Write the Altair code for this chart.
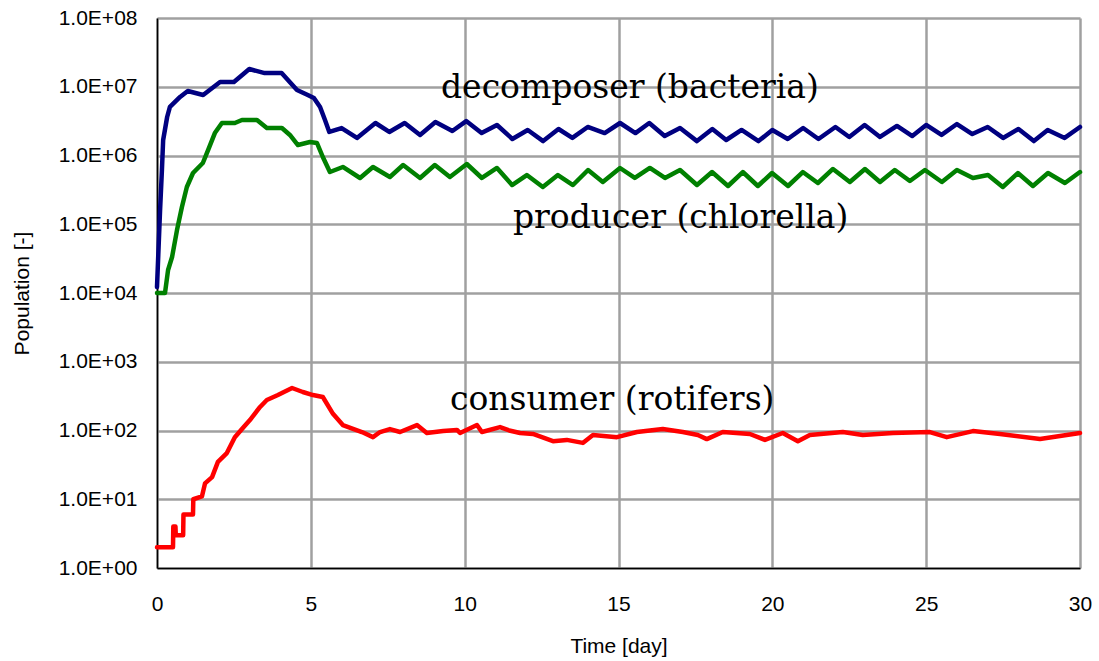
import altair as alt
import pandas as pd

# Simulated populations in the closed aquatic microcosm (day, individuals)
bacteria_day = [0, 0.1, 0.16, 0.2, 0.33, 0.42, 0.75, 1.0, 1.5, 2.05,
                2.5, 3.0, 3.5, 4.05, 4.55, 4.9, 5.1, 5.3, 5.46, 5.6,
                6.0, 6.5, 7.1, 7.55, 8.05, 8.55, 9.05, 9.6, 10.05, 10.55,
                11.05, 11.55, 12.05, 12.55, 13.05, 13.5, 14.0, 14.55, 15.05, 15.55,
                16.0, 16.5, 17.0, 17.55, 18.05, 18.5, 19.0, 19.55, 20.0, 20.5,
                21.0, 21.5, 22.05, 22.5, 23.0, 23.5, 24.05, 24.55, 25.0, 25.5,
                26.0, 26.5, 27.0, 27.5, 28.0, 28.5, 28.95, 29.5, 30.0]
bacteria_pop = [1.22e4, 1.61e5, 6.15e5, 1.68e6, 3.63e6, 5.08e6, 7.10e6, 8.67e6, 7.59e6, 1.17e7,
                1.17e7, 1.81e7, 1.58e7, 1.58e7, 8.97e6, 7.59e6, 6.86e6, 5.08e6, 3.28e6, 2.20e6,
                2.51e6, 1.80e6, 2.97e6, 2.20e6, 2.97e6, 1.99e6, 3.07e6, 2.27e6, 3.17e6, 2.12e6,
                2.78e6, 1.74e6, 2.35e6, 1.62e6, 2.43e6, 1.80e6, 2.60e6, 2.12e6, 2.97e6, 2.12e6,
                2.97e6, 1.92e6, 2.51e6, 1.62e6, 2.43e6, 1.68e6, 2.35e6, 1.62e6, 2.35e6, 1.74e6,
                2.51e6, 1.74e6, 2.60e6, 1.86e6, 2.78e6, 1.86e6, 2.69e6, 1.92e6, 2.78e6, 1.99e6,
                2.87e6, 2.05e6, 2.60e6, 1.80e6, 2.43e6, 1.62e6, 2.35e6, 1.80e6, 2.60e6]

chlorella_day = [0, 0.26, 0.36, 0.49, 0.65, 0.81, 0.97, 1.17, 1.49, 1.66,
                 1.88, 2.11, 2.53, 2.76, 3.25, 3.57, 4.06, 4.32, 4.58, 4.97,
                 5.20, 5.39, 5.62, 6.04, 6.60, 7.02, 7.57, 8.00, 8.55, 9.03,
                 9.52, 10.07, 10.56, 11.05, 11.54, 12.02, 12.54, 13.03, 13.52, 14.01,
                 14.49, 15.05, 15.53, 16.02, 16.51, 17.00, 17.55, 18.04, 18.56, 19.04,
                 19.53, 19.99, 20.51, 20.99, 21.48, 21.97, 22.52, 23.01, 23.50, 23.98,
                 24.47, 24.96, 25.51, 26.00, 26.52, 27.01, 27.49, 27.98, 28.47, 28.96,
                 29.51, 30.0]
chlorella_pop = [1.0e4, 1.0e4, 2.16e4, 3.34e4, 8.24e4, 1.78e5, 3.48e5, 5.56e5, 7.78e5, 1.20e6,
                 2.12e6, 2.97e6, 2.97e6, 3.28e6, 3.28e6, 2.51e6, 2.51e6, 1.99e6, 1.42e6, 1.57e6,
                 1.52e6, 9.51e5, 5.75e5, 6.81e5, 4.71e5, 6.81e5, 4.87e5, 7.27e5, 4.71e5, 7.27e5,
                 4.87e5, 7.52e5, 4.71e5, 6.58e5, 3.72e5, 5.20e5, 3.48e5, 5.20e5, 3.72e5, 6.15e5,
                 4.12e5, 6.58e5, 4.71e5, 6.58e5, 4.71e5, 6.15e5, 3.72e5, 5.75e5, 3.60e5, 5.75e5,
                 3.60e5, 5.56e5, 3.60e5, 5.75e5, 3.98e5, 6.37e5, 4.12e5, 6.37e5, 4.12e5, 6.15e5,
                 4.26e5, 6.15e5, 4.12e5, 6.15e5, 4.71e5, 5.20e5, 3.48e5, 5.56e5, 3.60e5, 5.56e5,
                 3.98e5, 5.75e5]

rotifer_day = [0, 0.52, 0.53, 0.6, 0.61, 0.85, 0.86, 1.17, 1.18, 1.46,
               1.56, 1.79, 1.98, 2.27, 2.53, 2.79, 3.02, 3.35, 3.57, 3.93,
               4.39, 4.74, 5.07, 5.39, 5.72, 6.04, 6.66, 7.02, 7.25, 7.57,
               7.90, 8.45, 8.77, 9.30, 9.75, 9.85, 10.40, 10.56, 11.15, 11.45,
               11.80, 12.22, 12.87, 13.32, 13.84, 14.17, 14.95, 15.60, 16.44, 17.09,
               17.58, 17.87, 18.39, 19.27, 19.76, 20.34, 20.83, 21.22, 22.29, 22.94,
               23.92, 25.12, 25.67, 26.52, 27.40, 28.70, 30.0]
rotifer_pop = [2, 2, 4, 4, 3, 3, 6, 6, 10, 11,
               17, 21, 35, 47, 80, 109, 142, 220, 278, 328,
               415, 363, 328, 307, 175, 120, 95, 80, 95, 105,
               95, 120, 92, 98, 102, 92, 120, 95, 112, 100,
               92, 89, 70, 73, 66, 86, 80, 95, 105, 95,
               86, 75, 95, 89, 73, 92, 70, 86, 95, 86,
               92, 95, 80, 98, 89, 75, 92]

series_names = ["decomposer", "producer", "consumer"]
series_colors = ["#000080", "#008000", "#ff0000"]

# Curve annotations placed in data space (left edge, vertical centre)
label_text = ["decomposer (bacteria)", "producer (chlorella)", "consumer (rotifers)"]
label_day = [9.23, 11.57, 9.52]
label_pop = [9.6e6, 1.23e5, 278]

rows = []
for name, days, pops in zip(series_names,
                            [bacteria_day, chlorella_day, rotifer_day],
                            [bacteria_pop, chlorella_pop, rotifer_pop]):
    for d, p in zip(days, pops):
        rows.append({"series": name, "day": d, "pop": p})
df = pd.DataFrame(rows)
labels = pd.DataFrame({"text": label_text, "day": label_day, "pop": label_pop})

x_enc = alt.X("day:Q", scale=alt.Scale(domain=[0, 30], nice=False),
              axis=alt.Axis(values=[0, 5, 10, 15, 20, 25, 30], title="Time [day]",
                            labelFlush=False, labelPadding=25, titlePadding=21))
y_enc = alt.Y("pop:Q",
              scale=alt.Scale(type="log", domain=[1, 1e8], nice=False),
              axis=alt.Axis(values=[1, 10, 100, 1e3, 1e4, 1e5, 1e6, 1e7, 1e8],
                            title="Population [-]",
                            labelExpr="'1.0E+' + (round(log(datum.value)/LN10) < 10 ? '0' : '') + round(log(datum.value)/LN10)",
                            labelFlush=False, labelPadding=20, titlePadding=26))

lines = alt.Chart(df).mark_line(
    strokeWidth=4.5, interpolate="linear", strokeJoin="round", strokeCap="round"
).encode(
    x=x_enc,
    y=y_enc,
    color=alt.Color("series:N", scale=alt.Scale(domain=series_names, range=series_colors),
                    legend=None),
    order=alt.Order("day:Q"),
)

text = alt.Chart(labels).mark_text(
    align="left", baseline="middle", font="DejaVu Serif", fontSize=33, color="black"
).encode(
    x=alt.X("day:Q"),
    y=alt.Y("pop:Q"),
    text="text:N",
)

chart = alt.layer(lines, text).properties(
    width=923, height=550,
    background="white",
    autosize=alt.AutoSizeParams(type="none"),
    padding={"left": 157, "top": 18, "right": 19, "bottom": 93},
).configure_view(stroke=None).configure_axis(
    grid=True, gridColor="#a0a0a0", gridWidth=2.5, gridOpacity=1,
    domainColor="black", domainWidth=1.5, ticks=False,
    labelFont="Liberation Sans", labelFontSize=21, labelColor="black",
    titleFont="Liberation Sans", titleFontSize=21, titleColor="black", titleFontWeight="normal",
)

chart.save("out.html", embed_options={"renderer": "svg", "actions": False})
